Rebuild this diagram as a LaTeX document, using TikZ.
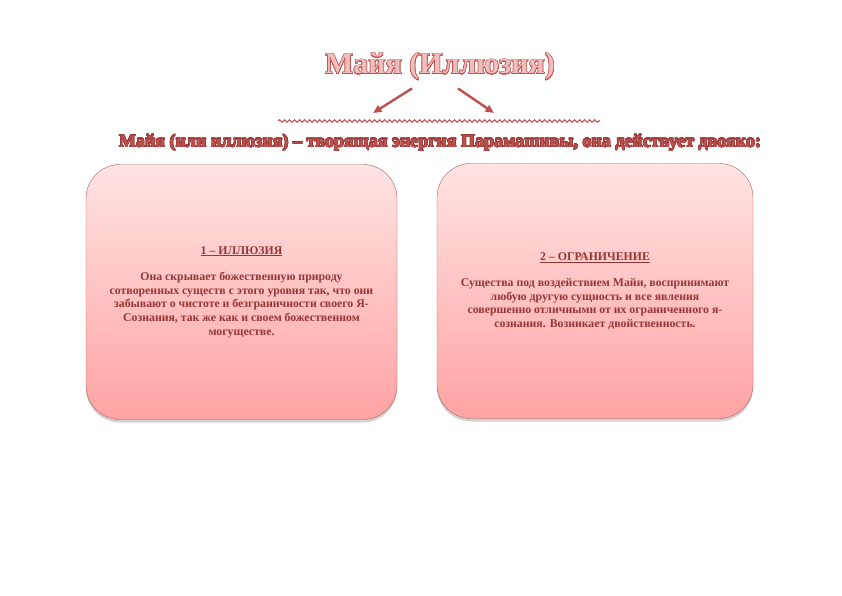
\documentclass[tikz,border=0pt]{standalone}
\usepackage{fontspec}
\setmainfont{Liberation Serif}
\usepackage{xcolor}
\definecolor{rojoMaya}{HTML}{C0504D}
\definecolor{granate}{HTML}{943634}
\definecolor{rosaClaro}{HTML}{FFE3E3}
\definecolor{rosaFuerte}{HTML}{FFA3A3}
\usepackage{contour}
\contourlength{0.6pt}
\usepackage{tikz}
\usetikzlibrary{arrows.meta,positioning,shadows,decorations.pathmorphing}

\begin{document}
\begin{tikzpicture}[x=1pt,y=-1pt,
 box/.style={draw=granate!80,rounded corners=34pt,top color=rosaClaro,bottom color=rosaFuerte,
 minimum width=311pt,minimum height=255pt,align=center,text=granate,
 font=\bfseries\fontsize{11.8}{13.6}\selectfont,
 drop shadow={shadow xshift=0pt,shadow yshift=-3pt,opacity=.35}},
 arr/.style={-{Triangle[length=3mm,width=2.6mm]},line width=2.4pt,draw=rojoMaya}]
 \useasboundingbox (0,0) rectangle (842,595);
 \node (title) at (440,67) {\fontsize{30}{33}\selectfont\bfseries
 \contour{rojoMaya}{\textcolor{rosaClaro!75!rojoMaya}{Майя (Иллюзия)}}};
 \coordinate (wl) at (278,121);
 \coordinate (wr) at (600,121);
 \draw[rojoMaya,line width=1.1pt,decorate,decoration={snake,amplitude=1.2pt,segment length=5pt}] (wl)--(wr);
 \coordinate (al) at (373,113);
 \coordinate (ar) at (494,113);
 \draw[arr] ([xshift=-28pt,yshift=-4pt]title.south)--(al);
 \draw[arr] ([xshift=18pt,yshift=-4pt]title.south)--(ar);
 \node (intro) at (440,143) {\fontsize{18}{20}\selectfont\bfseries
 \contourlength{0.45pt}\contour{granate}{\textcolor{rojoMaya}{Майя (или иллюзия) – творящая энергия Парамашивы, она действует двояко:}}};
 \node[box] (illusion) at (241.5,292) {\underline{1 – ИЛЛЮЗИЯ}\\[13pt]
 Она скрывает божественную природу\\сотворенных существ с этого уровня так, что они\\
 забывают о чистоте и безграничности своего Я-\\Сознания, так же как и своем божественном\\могуществе.};
 \node[box,minimum width=316pt] (limit) at (595,291) {\underline{2 – ОГРАНИЧЕНИЕ}\\[13pt]
 Существа под воздействием Майи, воспринимают\\любую другую сущность и все явления\\
 совершенно отличными от их ограниченного я-\\сознания. Возникает двойственность.};
\end{tikzpicture}
\end{document}
